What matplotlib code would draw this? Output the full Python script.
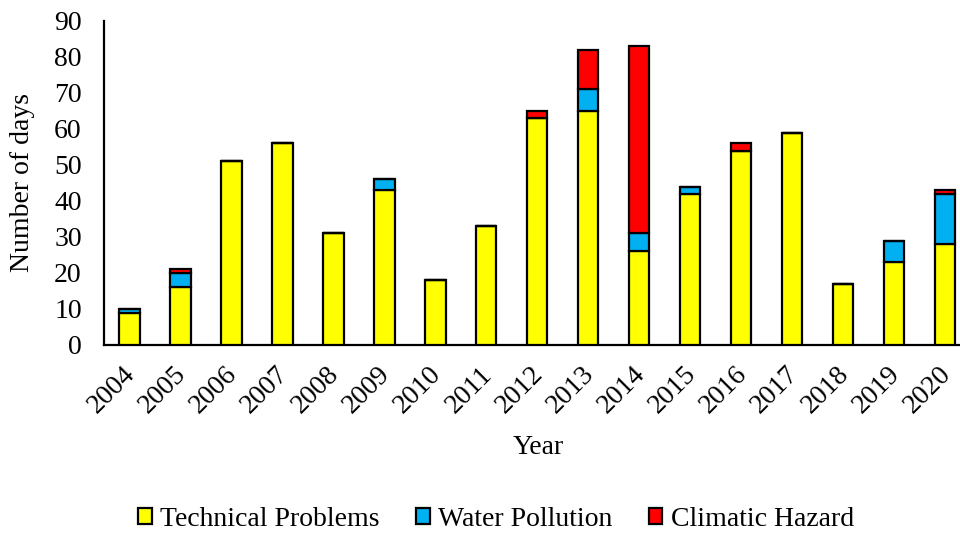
import matplotlib
matplotlib.use("Agg")
import matplotlib.pyplot as plt
import matplotlib.transforms as mtransforms
import numpy as np

years = ["2004", "2005", "2006", "2007", "2008", "2009", "2010", "2011", "2012",
         "2013", "2014", "2015", "2016", "2017", "2018", "2019", "2020"]
technical = [9, 16, 51, 56, 31, 43, 18, 33, 63, 65, 26, 42, 54, 59, 17, 23, 28]
water = [1, 4, 0, 0, 0, 3, 0, 0, 0, 6, 5, 2, 0, 0, 0, 6, 14]
climatic = [0, 1, 0, 0, 0, 0, 0, 0, 2, 11, 52, 0, 2, 0, 0, 0, 1]
series_names = ["Technical Problems", "Water Pollution", "Climatic Hazard"]
colors = ["#FFFF00", "#00B0F0", "#FF0000"]

plt.rcParams['font.family'] = ['Liberation Serif', 'DejaVu Serif']

fig = plt.figure(figsize=(9.6, 5.33), dpi=100)
ax = fig.add_axes([104/960, 1-345/533, (970.5-104)/960, (345-21)/533])

x = np.arange(len(years))
w = 0.4
tech = np.array(technical)
wat = np.array(water)
cli = np.array(climatic)
ax.bar(x, tech, w, color=colors[0], edgecolor='black', linewidth=1.6, label=series_names[0], zorder=3)
ax.bar(x, wat, w, bottom=tech, color=colors[1], edgecolor='black', linewidth=1.6, label=series_names[1], zorder=3)
ax.bar(x, cli, w, bottom=tech+wat, color=colors[2], edgecolor='black', linewidth=1.6, label=series_names[2], zorder=3)

ax.set_xlim(-0.5, len(years)-0.5)
ax.set_ylim(0, 90)
ax.set_yticks(range(0, 91, 10))
ax.set_xticks(x)
ax.set_xticklabels(years, rotation=45, ha='right', rotation_mode='anchor', fontsize=20)
ax.tick_params(axis='y', labelsize=20, length=0, pad=16)
ax.tick_params(axis='x', length=0, pad=12)
offset = mtransforms.ScaledTranslation(-7/100, 0, fig.dpi_scale_trans)
for lab in ax.get_xticklabels():
    lab.set_transform(lab.get_transform() + offset)
for s in ['top', 'right']:
    ax.spines[s].set_visible(False)
for s in ['left', 'bottom']:
    ax.spines[s].set_linewidth(1.6)
ax.set_ylabel("Number of days", fontsize=20)
ax.yaxis.set_label_coords(-(104-35)/(970.5-104), 0.5)
ax.set_xlabel("Year", fontsize=20)
ax.xaxis.set_label_coords((538-104)/(970.5-104), -(447-345)/324)
ax.xaxis.label.set_va('center')

handles, labels = ax.get_legend_handles_labels()
fig.legend(handles, labels, loc='center', bbox_to_anchor=(496/960, 1-519/533), ncol=3,
           frameon=False, fontsize=20, handlelength=0.5, handleheight=0.5,
           handletextpad=0.3, columnspacing=1.3)

fig.savefig("out.png", dpi=100)
